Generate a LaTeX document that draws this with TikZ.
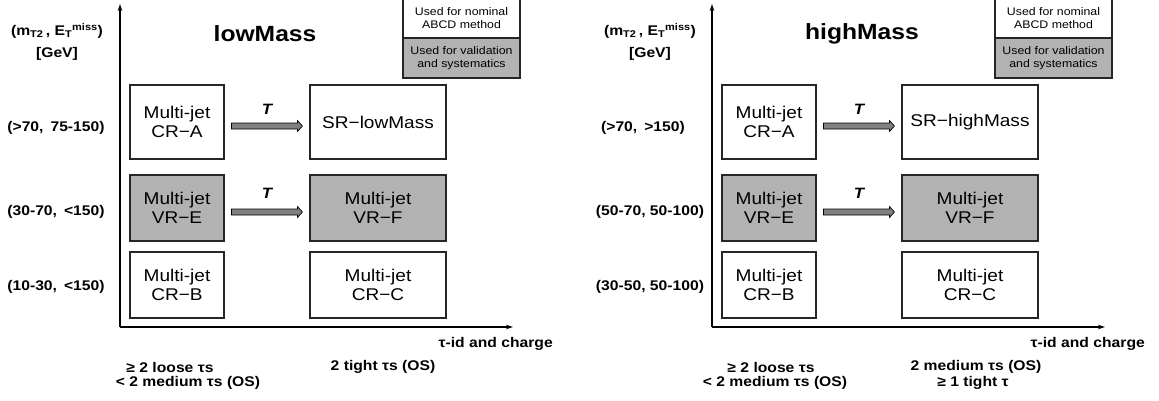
\documentclass[tikz,border=0pt]{standalone}
\usepackage{fontspec}
\setmainfont{Liberation Sans}[FakeStretch=1.12]
\usetikzlibrary{calc,arrows.meta}
\definecolor{boxgray}{RGB}{178,178,178}
\definecolor{arrgray}{RGB}{128,128,128}
\begin{document}
\begin{tikzpicture}[x=1pt,y=-1pt,
  regbox/.style={draw=black!85,line width=1.1pt,align=center,inner sep=0pt,font=\fontsize{17}{19}\selectfont},
  wbox/.style={regbox,fill=white},
  gbox/.style={regbox,fill=boxgray},
  lab/.style={font=\fontsize{14}{16}\selectfont\bfseries,align=center,inner sep=0pt},
  ttl/.style={font=\fontsize{22}{24}\selectfont\bfseries,inner sep=0pt},
  legbox/.style={draw=black!85,line width=1.1pt,align=center,inner sep=0pt,font=\fontsize{11}{13}\selectfont,minimum width=117pt,minimum height=40pt},
  tlab/.style={font=\fontsize{15}{15}\selectfont\bfseries\itshape,inner sep=0pt},
  axisline/.style={line width=1.4pt,-{Stealth[length=7pt,width=4.5pt]}},
  blockarrow/.style={draw=black,line width=0.7pt,fill=arrgray,
    to path={let \p1=($(\tikztostart.east)+(7pt,-4pt)$), \p2=($(\tikztotarget.west)+(-7pt,-4pt)$) in
      (\x1,\y1+3pt) -- (\x2-5pt,\y1+3pt) -- (\x2-5pt,\y1+5.5pt) -- (\x2,\y1) -- (\x2-5pt,\y1-5.5pt) -- (\x2-5pt,\y1-3pt) -- (\x1,\y1-3pt) -- cycle}}
]
\useasboundingbox (0,0) rectangle (1159,400);
\clip (0,0) rectangle (1159,400);

% ---------------- left panel: lowMass ----------------
\coordinate (O1) at (120,327);
\coordinate (Y1) at (120,4);
\coordinate (X1) at (513,327);
\draw[axisline] (O1) -- (Y1);
\draw[axisline] (O1) -- (X1);

\node[ttl] (title1) at (265,34) {lowMass};
\node[lab] (ylab1) at (57,31) {(m\textsubscript{T2}\,, E\textsubscript{T}\textsuperscript{miss})};
\node[lab] (gev1) at (57,54) {[GeV]};

\node[legbox,fill=white] (legA1) at (461.5,18) {Used for nominal\\ABCD method};
\node[legbox,fill=boxgray] (legB1) at (461.5,58) {Used for validation\\and systematics};

\node[wbox,minimum width=94pt,minimum height=74pt] (A1) at (177,122) {Multi-jet\\CR\textminus A};
\node[wbox,minimum width=136pt,minimum height=74pt] (SR1) at (378,122) {SR\textminus lowMass};
\node[gbox,minimum width=94pt,minimum height=66pt] (E1) at (177,208) {Multi-jet\\VR\textminus E};
\node[gbox,minimum width=136pt,minimum height=66pt] (F1) at (378,208) {Multi-jet\\VR\textminus F};
\node[wbox,minimum width=94pt,minimum height=66pt] (B1) at (177,285) {Multi-jet\\CR\textminus B};
\node[wbox,minimum width=136pt,minimum height=66pt] (C1) at (378,285) {Multi-jet\\CR\textminus C};

\draw[blockarrow] (A1) to (SR1);
\draw[blockarrow] (E1) to (F1);
\node[tlab] (TA1) at ($(A1.east)!0.5!(SR1.west)+(0,13pt)$) {T};
\node[tlab] (TE1) at ($(E1.east)!0.5!(F1.west)+(0,15pt)$) {T};

\node[lab] (r1a) at (56,128) {(>70,\hspace{0.5em}75-150)};
\node[lab] (r1b) at (56,212) {(30-70,\hspace{0.5em}<150)};
\node[lab] (r1c) at (56,287) {(10-30,\hspace{0.5em}<150)};

\node[lab,anchor=east] (xl1) at (553,344) {τ-id and charge};
\node[lab] (b1a) at (170,367) {≥ 2 loose τs};
\node[lab] (b1b) at (188,383) {< 2 medium τs (OS)};
\node[lab] (b1c) at (383,367) {2 tight τs (OS)};

% ---------------- right panel: highMass ----------------
\begin{scope}[xshift=592pt]
\coordinate (O2) at (120,327);
\coordinate (Y2) at (120,4);
\coordinate (X2) at (513,327);
\draw[axisline] (O2) -- (Y2);
\draw[axisline] (O2) -- (X2);

\node[ttl] (title2) at (270,34) {highMass};
\node[lab] (ylab2) at (58,31) {(m\textsubscript{T2}\,, E\textsubscript{T}\textsuperscript{miss})};
\node[lab] (gev2) at (58,54) {[GeV]};

\node[legbox,fill=white] (legA2) at (461.5,18) {Used for nominal\\ABCD method};
\node[legbox,fill=boxgray] (legB2) at (461.5,58) {Used for validation\\and systematics};

\node[wbox,minimum width=94pt,minimum height=74pt] (A2) at (177,122) {Multi-jet\\CR\textminus A};
\node[wbox,minimum width=136pt,minimum height=74pt] (SR2) at (378,122) {SR\textminus highMass};
\node[gbox,minimum width=94pt,minimum height=66pt] (E2) at (177,208) {Multi-jet\\VR\textminus E};
\node[gbox,minimum width=136pt,minimum height=66pt] (F2) at (378,208) {Multi-jet\\VR\textminus F};
\node[wbox,minimum width=94pt,minimum height=66pt] (B2) at (177,285) {Multi-jet\\CR\textminus B};
\node[wbox,minimum width=136pt,minimum height=66pt] (C2) at (378,285) {Multi-jet\\CR\textminus C};

\draw[blockarrow] (A2) to (SR2);
\draw[blockarrow] (E2) to (F2);
\node[tlab] (TA2) at ($(A2.east)!0.5!(SR2.west)+(0,13pt)$) {T};
\node[tlab] (TE2) at ($(E2.east)!0.5!(F2.west)+(0,15pt)$) {T};

\node[lab] (r2a) at (51,128) {(>70,\hspace{0.5em}>150)};
\node[lab] (r2b) at (58,212) {(50-70, 50-100)};
\node[lab] (r2c) at (58,287) {(30-50, 50-100)};

\node[lab,anchor=east] (xl2) at (553,344) {τ-id and charge};
\node[lab] (b2a) at (179,367) {≥ 2 loose τs};
\node[lab] (b2b) at (183,383) {< 2 medium τs (OS)};
\node[lab] (b2c) at (384,367) {2 medium τs (OS)};
\node[lab] (b2d) at (381,383) {≥ 1 tight τ};
\end{scope}
\end{tikzpicture}
\end{document}
